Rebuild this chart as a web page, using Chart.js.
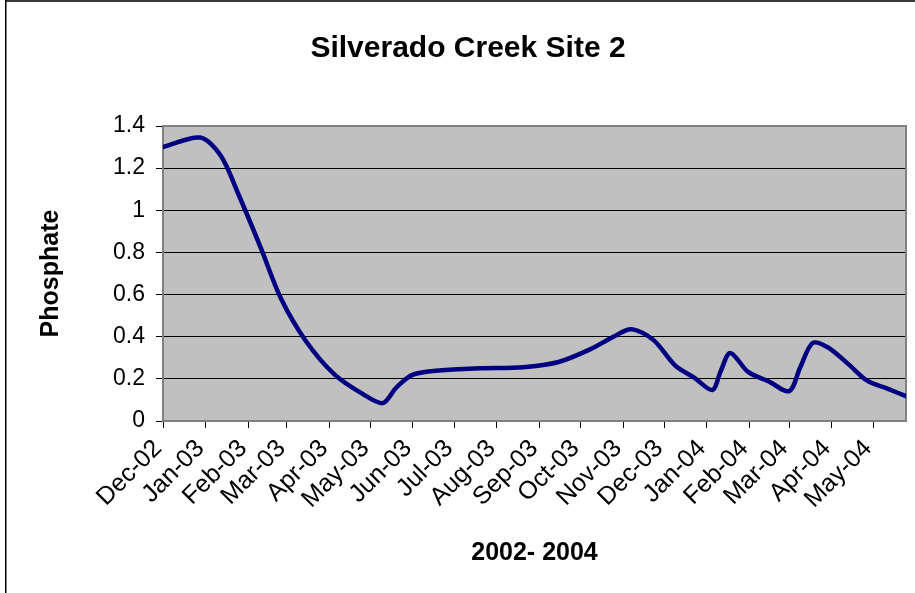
<!DOCTYPE html>
<html>
<head>
<meta charset="utf-8">
<title>Silverado Creek Site 2</title>
<script src="https://cdn.jsdelivr.net/npm/chart.js@4.4.1/dist/chart.umd.min.js"></script>
<style>
  html, body { margin: 0; padding: 0; background: #fff; }
  canvas { display: block; }
</style>
</head>
<body>
<canvas id="phosphate-chart" width="915" height="593"></canvas>
<script>
// sample dates and phosphate readings
const sampleDates = [
  '2002-12-01', '2002-12-28', '2003-01-12', '2003-01-25', '2003-02-10',
  '2003-02-25', '2003-03-15', '2003-04-05', '2003-04-25', '2003-05-10',
  '2003-05-20', '2003-06-01', '2003-06-20', '2003-07-20', '2003-08-20',
  '2003-09-15', '2003-10-08', '2003-10-25', '2003-11-07', '2003-11-23',
  '2003-12-09', '2003-12-23', '2004-01-05', '2004-01-11', '2004-01-18',
  '2004-01-31', '2004-02-15', '2004-03-01', '2004-03-09', '2004-03-18',
  '2004-03-29', '2004-04-13', '2004-04-27', '2004-05-11', '2004-05-25'
];
const phosphate = [
  1.30, 1.345, 1.26, 1.075, 0.825,
  0.58, 0.38, 0.22, 0.13, 0.085,
  0.16, 0.22, 0.24, 0.25, 0.255,
  0.28, 0.34, 0.40, 0.435, 0.385,
  0.263, 0.205, 0.147, 0.235, 0.323,
  0.233, 0.188, 0.142, 0.255, 0.37,
  0.35, 0.27, 0.19, 0.155, 0.118
];

// month ticks on the date axis
const tickDates = [
  '2002-12-01', '2003-01-01', '2003-02-01', '2003-03-01', '2003-04-01',
  '2003-05-01', '2003-06-01', '2003-07-01', '2003-08-01', '2003-09-01',
  '2003-10-01', '2003-11-01', '2003-12-01', '2004-01-01', '2004-02-01',
  '2004-03-01', '2004-04-01', '2004-05-01'
];
const tickLabels = [
  'Dec-02', 'Jan-03', 'Feb-03', 'Mar-03', 'Apr-03', 'May-03', 'Jun-03',
  'Jul-03', 'Aug-03', 'Sep-03', 'Oct-03', 'Nov-03', 'Dec-03', 'Jan-04',
  'Feb-04', 'Mar-04', 'Apr-04', 'May-04'
];
const yTicks = [0, 0.2, 0.4, 0.6, 0.8, 1, 1.2, 1.4];

const toTime = (s) => Date.parse(s + 'T00:00:00Z');
const points = sampleDates.map((d, i) => ({ x: toTime(d), y: phosphate[i] }));

const FONT = "'Liberation Sans', Arial, sans-serif";

// grey plot area, its frame and the outer chart border
const frame = {
  id: 'frame',
  beforeDraw(chart) {
    const { ctx, chartArea: a } = chart;
    ctx.save();
    ctx.fillStyle = '#c0c0c0';
    ctx.fillRect(a.left, a.top, a.right - a.left, a.bottom - a.top);
    ctx.fillStyle = '#3a3a3a';
    ctx.fillRect(5, 0, chart.width - 5, 2);
    ctx.fillStyle = '#000';
    ctx.fillRect(5, 0, 1.5, chart.height);
    ctx.restore();
  },
  beforeDatasetsDraw(chart) {
    const { ctx, chartArea: a } = chart;
    ctx.save();
    ctx.strokeStyle = '#808080';
    ctx.lineWidth = 2;
    ctx.beginPath();
    ctx.moveTo(a.left, a.top);
    ctx.lineTo(a.right, a.top);
    ctx.lineTo(a.right, a.bottom);
    ctx.stroke();
    ctx.restore();
  }
};

const ctx = document.getElementById('phosphate-chart').getContext('2d');
new Chart(ctx, {
  type: 'line',
  data: {
    datasets: [{
      label: 'Phosphate',
      data: points,
      borderColor: '#000080',
      borderWidth: 4.5,
      borderCapStyle: 'round',
      borderJoinStyle: 'round',
      pointRadius: 0,
      tension: 0.3,
      fill: false
    }]
  },
  options: {
    responsive: false,
    animation: false,
    layout: { padding: { top: 0, left: 30, right: 9, bottom: 25 } },
    plugins: {
      legend: { display: false },
      tooltip: { enabled: false },
      title: {
        display: true,
        text: 'Silverado Creek Site 2',
        color: '#000',
        font: { family: FONT, size: 30, weight: 'bold' },
        padding: { top: 31, bottom: 59 }
      }
    },
    scales: {
      x: {
        type: 'linear',
        min: toTime(sampleDates[0]),
        max: toTime(sampleDates[sampleDates.length - 1]),
        afterBuildTicks(scale) {
          scale.ticks = tickDates.map(d => ({ value: toTime(d) }));
        },
        afterFit(scale) { scale.height = 147; },
        grid: {
          drawOnChartArea: false,
          drawTicks: true,
          tickLength: 7,
          tickColor: '#000'
        },
        border: { color: '#808080', width: 2 },
        ticks: {
          autoSkip: false,
          minRotation: 45,
          maxRotation: 45,
          padding: 6,
          labelOffset: -5,
          color: '#000',
          font: { family: FONT, size: 25 },
          callback(value, index) { return tickLabels[index]; }
        },
        title: {
          display: true,
          text: '2002- 2004',
          color: '#000',
          font: { family: FONT, size: 25, weight: 'bold' },
          padding: 0
        }
      },
      y: {
        min: 0,
        max: 1.4,
        afterBuildTicks(scale) {
          scale.ticks = yTicks.map(v => ({ value: v }));
        },
        afterFit(scale) { scale.width = 133; },
        grid: {
          color: '#000',
          lineWidth: 1,
          tickLength: 7,
          tickColor: '#000'
        },
        border: { color: '#808080', width: 2 },
        ticks: {
          padding: 11,
          color: '#000',
          font: { family: FONT, size: 23 },
          callback(value) { return String(value); }
        },
        title: {
          display: true,
          text: 'Phosphate',
          color: '#000',
          font: { family: FONT, size: 25, weight: 'bold' },
          padding: 6
        }
      }
    }
  },
  plugins: [frame]
});
</script>
</body>
</html>
